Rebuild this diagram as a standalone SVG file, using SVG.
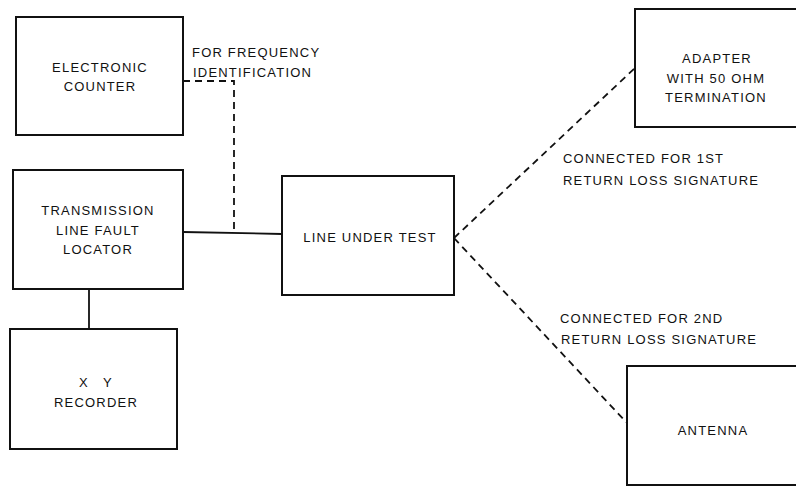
<svg xmlns="http://www.w3.org/2000/svg" width="796" height="487" viewBox="0 0 796 487">
<style>
.box{fill:#fff;stroke:#111;stroke-width:2}
.t{font-family:"Liberation Sans",Arial,sans-serif;font-size:13px;letter-spacing:1.2px;fill:#111;text-anchor:middle}
.l{font-family:"Liberation Sans",Arial,sans-serif;font-size:13px;letter-spacing:1.2px;fill:#111}
.solid{fill:none;stroke:#111;stroke-width:1.8}
.dash{fill:none;stroke:#111;stroke-width:1.8;stroke-dasharray:7 5}
</style>
<rect width="796" height="487" fill="#fff"/>
<g id="connectors">
<path class="solid" d="M183 232 L282 234"/>
<path class="solid" d="M89 289 L89 329"/>
<path class="dash" d="M183 81 L234 81 L234 233"/>
<path class="dash" d="M454 238 L636 67"/>
<path class="dash" d="M454 238 L627 423"/>
</g>
<g id="electronic-counter">
<rect class="box" x="16" y="17" width="167" height="118"/>
<text class="t" x="100" y="72">ELECTRONIC</text>
<text class="t" x="100" y="91">COUNTER</text>
</g>
<g id="freq-label">
<text class="l" x="192" y="57">FOR FREQUENCY</text>
<text class="l" x="193" y="77">IDENTIFICATION</text>
</g>
<g id="fault-locator">
<rect class="box" x="13" y="170" width="170" height="119"/>
<text class="t" x="98" y="215">TRANSMISSION</text>
<text class="t" x="98" y="235">LINE FAULT</text>
<text class="t" x="98" y="254">LOCATOR</text>
</g>
<g id="xy-recorder">
<rect class="box" x="10" y="329" width="167" height="120"/>
<text class="t" x="96" y="387" xml:space="preserve">X   Y</text>
<text class="t" x="96" y="407">RECORDER</text>
</g>
<g id="line-under-test">
<rect class="box" x="282" y="176" width="172" height="119"/>
<text class="t" x="370" y="242">LINE UNDER TEST</text>
</g>
<g id="adapter">
<rect class="box" x="635" y="9" width="163" height="118"/>
<text class="t" x="717" y="63">ADAPTER</text>
<text class="t" x="716" y="83">WITH 50 OHM</text>
<text class="t" x="716" y="102">TERMINATION</text>
</g>
<g id="antenna">
<rect class="box" x="627" y="366" width="171" height="119"/>
<text class="t" x="713" y="435">ANTENNA</text>
</g>
<g id="labels">
<text class="l" x="563" y="163">CONNECTED FOR 1ST</text>
<text class="l" x="563" y="185">RETURN LOSS SIGNATURE</text>
<text class="l" x="560" y="323">CONNECTED FOR 2ND</text>
<text class="l" x="561" y="344">RETURN LOSS SIGNATURE</text>
</g>
</svg>
